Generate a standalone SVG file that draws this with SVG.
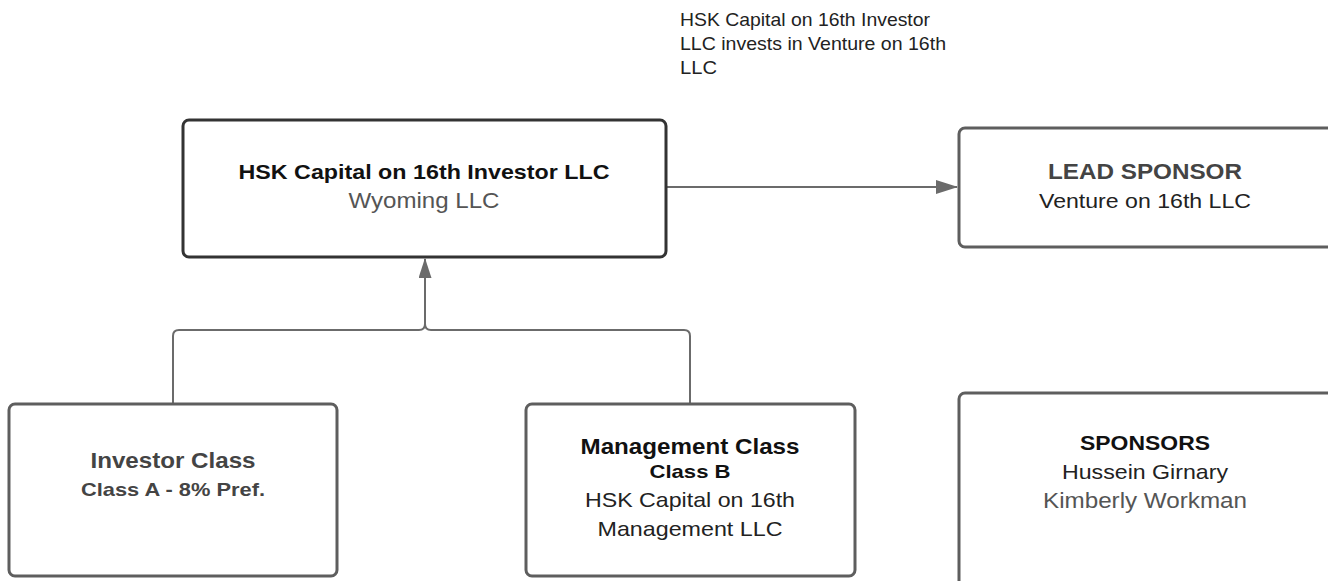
<svg xmlns="http://www.w3.org/2000/svg" width="1328" height="581" viewBox="0 0 1328 581">
<defs>
<style>
.box{fill:#fff;stroke:#5e5e5e;stroke-width:3}
.main{stroke:#333}
text{font-family:"Liberation Sans",Arial,sans-serif;text-anchor:middle}
.b{font-weight:bold}
.l{text-anchor:start}
.conn{fill:none;stroke:#6b6b6b;stroke-width:2}
</style>
<marker id="arr" markerWidth="20" markerHeight="13" refX="19" refY="6.5" orient="auto" markerUnits="userSpaceOnUse" viewBox="0 0 20 13">
<path d="M0,0 L20,6.5 L0,13 Z" fill="#6b6b6b"/>
</marker>
<marker id="arrL" markerWidth="22" markerHeight="14" refX="21" refY="7" orient="auto" markerUnits="userSpaceOnUse" viewBox="0 0 22 14">
<path d="M0,0 L22,7 L0,14 Z" fill="#6b6b6b"/>
</marker>
</defs>
<g id="connectors">
<path class="conn" d="M666,187 L957,187" marker-end="url(#arrL)"/>
<path class="conn" d="M173,404 L173,336 Q173,330 179,330 L419,330 Q425,330 425,324 L425,259" marker-end="url(#arr)"/>
<path class="conn" d="M690,404 L690,336 Q690,330 684,330 L431,330 Q425,330 425,324"/>
</g>
<g id="label-invest">
<text class="l" x="680" y="26" font-size="18.5" fill="#222" textLength="250" lengthAdjust="spacingAndGlyphs">HSK Capital on 16th Investor</text>
<text class="l" x="680" y="50" font-size="18.5" fill="#222" textLength="266" lengthAdjust="spacingAndGlyphs">LLC invests in Venture on 16th</text>
<text class="l" x="680" y="74" font-size="18.5" fill="#222" textLength="37" lengthAdjust="spacingAndGlyphs">LLC</text>
</g>
<g id="node-hsk">
<rect class="box main" x="183" y="120" width="483" height="137" rx="6"/>
<text class="b" x="424" y="179" font-size="21" fill="#111" textLength="371" lengthAdjust="spacingAndGlyphs">HSK Capital on 16th Investor LLC</text>
<text x="424" y="208" font-size="21.5" fill="#555" textLength="151" lengthAdjust="spacingAndGlyphs">Wyoming LLC</text>
</g>
<g id="node-lead">
<rect class="box" x="959" y="128" width="380" height="119" rx="6"/>
<text class="b" x="1145" y="179" font-size="21.5" fill="#444" textLength="194" lengthAdjust="spacingAndGlyphs">LEAD SPONSOR</text>
<text x="1145" y="208" font-size="21" fill="#222" textLength="212" lengthAdjust="spacingAndGlyphs">Venture on 16th LLC</text>
</g>
<g id="node-investor">
<rect class="box" x="9" y="404" width="328" height="172" rx="6"/>
<text class="b" x="173" y="468" font-size="21.5" fill="#444" textLength="165" lengthAdjust="spacingAndGlyphs">Investor Class</text>
<text class="b" x="173" y="496" font-size="19" fill="#444" textLength="184" lengthAdjust="spacingAndGlyphs">Class A - 8% Pref.</text>
</g>
<g id="node-mgmt">
<rect class="box" x="526" y="404" width="329" height="172" rx="6"/>
<text class="b" x="690" y="454" font-size="21.5" fill="#111" textLength="219" lengthAdjust="spacingAndGlyphs">Management Class</text>
<text class="b" x="690" y="478" font-size="19" fill="#111" textLength="81" lengthAdjust="spacingAndGlyphs">Class B</text>
<text x="690" y="507" font-size="21" fill="#222" textLength="210" lengthAdjust="spacingAndGlyphs">HSK Capital on 16th</text>
<text x="690" y="536" font-size="21" fill="#222" textLength="185" lengthAdjust="spacingAndGlyphs">Management LLC</text>
</g>
<g id="node-sponsors">
<rect class="box" x="959" y="393" width="380" height="200" rx="6"/>
<text class="b" x="1145" y="450" font-size="21" fill="#111" textLength="130" lengthAdjust="spacingAndGlyphs">SPONSORS</text>
<text x="1145" y="479" font-size="21" fill="#222" textLength="166" lengthAdjust="spacingAndGlyphs">Hussein Girnary</text>
<text x="1145" y="508" font-size="21.5" fill="#555" textLength="204" lengthAdjust="spacingAndGlyphs">Kimberly Workman</text>
</g>
</svg>
